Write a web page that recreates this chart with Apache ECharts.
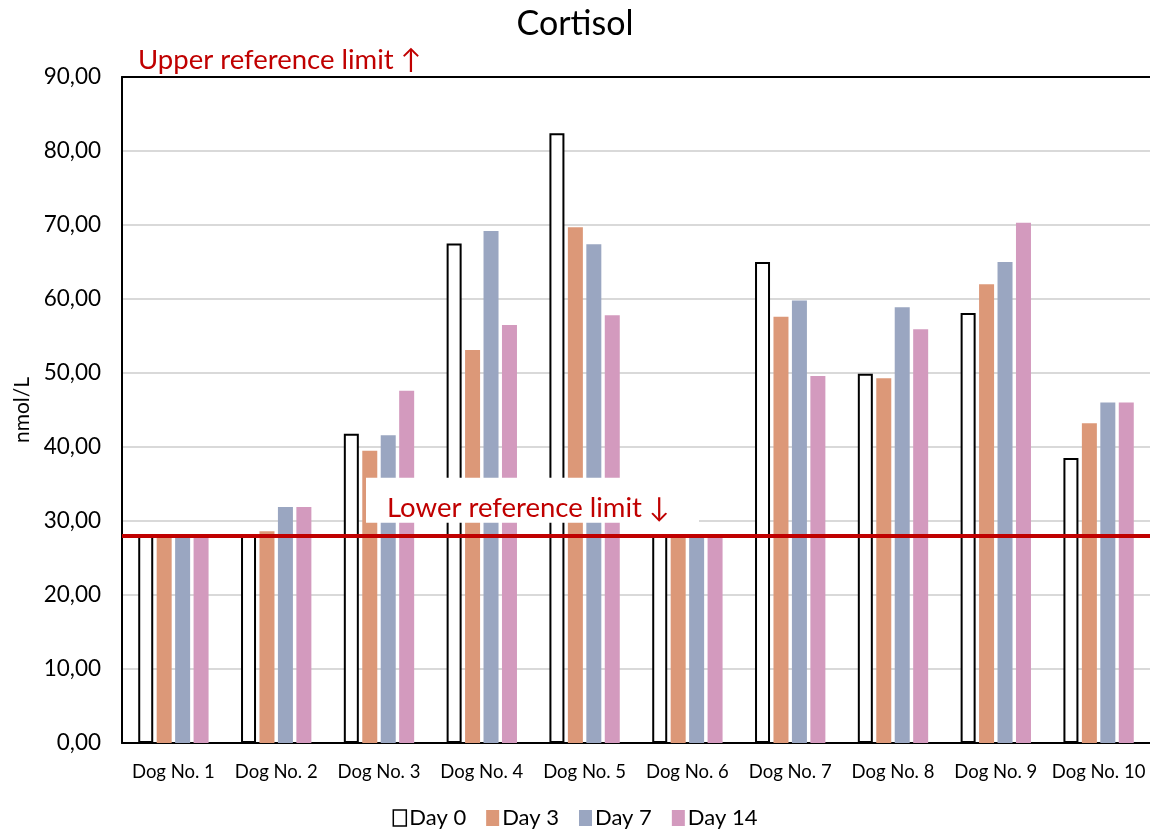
<!DOCTYPE html>
<html>
<head>
<meta charset="utf-8">
<script src="https://cdn.jsdelivr.net/npm/echarts@6/dist/echarts.min.js"></script>
<style>
html,body{margin:0;padding:0;background:#fff;}
#chart{width:1150px;height:834px;}
</style>
</head>
<body>
<div id="chart"></div>
<script>
const categories = ['Dog No. 1','Dog No. 2','Dog No. 3','Dog No. 4','Dog No. 5','Dog No. 6','Dog No. 7','Dog No. 8','Dog No. 9','Dog No. 10'];
const day0  = [28.0, 28.0, 41.8, 67.5, 82.4, 28.0, 65.0, 49.9, 58.1, 38.5];
const day3  = [28.0, 28.6, 39.5, 53.1, 69.7, 28.0, 57.6, 49.3, 62.0, 43.2];
const day7  = [28.0, 31.9, 41.6, 69.2, 67.4, 28.0, 59.8, 58.9, 65.0, 46.0];
const day14 = [28.0, 31.9, 47.6, 56.5, 57.8, 28.0, 49.6, 55.9, 70.3, 46.0];
const seriesNames = ['Day 0','Day 3','Day 7','Day 14'];
const lowerLimit = 28;
const yTicks = {min: 0, max: 90, interval: 10};
const titleText = 'Cortisol';
const yName = 'nmol/L';
const upperText = 'Upper reference limit \u2191';
const lowerText = 'Lower reference limit \u2193';

const FONT = 'Lato';
const chart = echarts.init(document.getElementById('chart'));
const colors = ['#FFFFFF', '#DC9878', '#9AA6C1', '#D39ABE'];

function bar(name, data, idx) {
  return {
    name: name,
    type: 'bar',
    data: data,
    barWidth: 15,
    barGap: '23%',
    itemStyle: idx === 0
      ? {color: '#FFFFFF', borderColor: '#000000', borderWidth: 2}
      : {color: colors[idx]},
    z: 2
  };
}

const series = [
  bar(seriesNames[0], day0, 0),
  bar(seriesNames[1], day3, 1),
  bar(seriesNames[2], day7, 2),
  bar(seriesNames[3], day14, 3)
];
series[3].markLine = {
  silent: true,
  symbol: 'none',
  z: 10,
  lineStyle: {color: '#C00000', width: 4, type: 'solid'},
  label: {show: false},
  data: [{yAxis: lowerLimit}]
};

chart.setOption({
  animation: false,
  backgroundColor: '#FFFFFF',
  title: {
    text: titleText,
    left: 'center',
    top: 2,
    textStyle: {fontFamily: FONT, fontSize: 34, fontWeight: 'normal', color: '#000'}
  },
  legend: {
    bottom: 0,
    left: 'center',
    itemWidth: 13,
    itemHeight: 16,
    itemGap: 20,
    icon: 'rect',
    textStyle: {fontFamily: FONT, fontSize: 22, color: '#000', padding: [0,0,0,-2]},
    data: [
      {name: seriesNames[0], itemStyle: {color: '#fff', borderColor: '#000', borderWidth: 1.5}},
      {name: seriesNames[1]},
      {name: seriesNames[2]},
      {name: seriesNames[3]}
    ]
  },
  grid: {left: 122, right: 0, top: 77, bottom: 91, containLabel: false},
  xAxis: [{
    type: 'category',
    data: categories,
    axisLine: {show: true, lineStyle: {color: '#000', width: 2}},
    axisTick: {show: false},
    axisLabel: {fontFamily: FONT, fontSize: 18.5, color: '#000', margin: 20, interval: 0}
  }, {
    type: 'category',
    position: 'top',
    data: categories,
    axisLine: {show: true, onZero: false, lineStyle: {color: '#000', width: 2}},
    axisTick: {show: false},
    axisLabel: {show: false}
  }],
  yAxis: {
    type: 'value',
    min: yTicks.min, max: yTicks.max, interval: yTicks.interval,
    name: yName,
    nameLocation: 'middle',
    nameGap: 88,
    nameTextStyle: {fontFamily: FONT, fontSize: 21, color: '#000'},
    axisLine: {show: true, lineStyle: {color: '#000', width: 2}},
    axisTick: {show: false},
    axisLabel: {
      fontFamily: FONT, fontSize: 22.5, color: '#000', margin: 21,
      formatter: v => v.toFixed(2).replace('.', ',')
    },
    splitLine: {show: true, lineStyle: {color: '#D9D9D9', width: 2}}
  },
  color: colors,
  series: series
});

// Annotation texts positioned relative to the reference line / axis top
const yLine = chart.convertToPixel({yAxisIndex: 0}, lowerLimit);
const yTop = chart.convertToPixel({yAxisIndex: 0}, yTicks.max);
chart.setOption({
  graphic: [
    {
      type: 'rect', z: 50,
      shape: {x: 366, y: yLine - 58, width: 333, height: 45},
      style: {fill: '#FFFFFF'}
    },
    {
      type: 'text', z: 51,
      x: 387, y: yLine - 28,
      style: {text: lowerText, fill: '#C00000', font: '27.5px ' + FONT, textVerticalAlign: 'middle'}
    },
    {
      type: 'text', z: 51,
      x: 138, y: yTop - 17,
      style: {text: upperText, fill: '#C00000', font: '27.5px ' + FONT, textVerticalAlign: 'middle'}
    }
  ]
});
</script>
</body>
</html>
